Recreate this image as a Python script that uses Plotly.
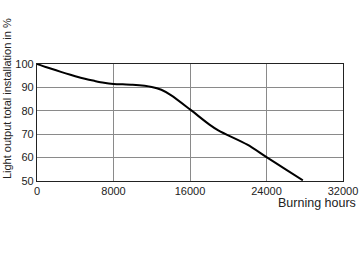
import plotly.graph_objects as go

hours = [0, 1000, 2000, 3000, 4000, 5000, 6000, 7000, 8000, 10000, 12000, 13000, 14000,
         16000, 18000, 19000, 22000, 24000, 26000, 27800]
light = [100, 98.6, 97.3, 96.0, 94.8, 93.7, 92.8, 92.0, 91.5, 91.1, 90.2, 89.0, 86.7,
         80.6, 74.2, 71.5, 65.5, 60.2, 55.0, 50.3]
xticks = [0, 8000, 16000, 24000, 32000]
yticks = [50, 60, 70, 80, 90, 100]

fig = go.Figure()
fig.add_trace(go.Scatter(x=hours, y=light, mode="lines",
                         line=dict(color="black", width=2, shape="spline", smoothing=0.8),
                         showlegend=False, hoverinfo="skip"))

font = dict(family="Liberation Sans, Arial, sans-serif", size=11, color="#222")
fig.update_layout(
    width=360, height=262,
    margin=dict(l=37, r=17, t=64, b=81),
    paper_bgcolor="white", plot_bgcolor="white",
    font=font,
    xaxis=dict(range=[0, 32000], tickvals=xticks, ticktext=[str(v) for v in xticks],
               showgrid=True, gridcolor="#8a8a8a", gridwidth=1,
               showline=True, linecolor="#222", linewidth=1.2, mirror=True,
               ticks="", zeroline=False, tickfont=font, automargin=False),
    yaxis=dict(range=[50, 100], tickvals=yticks, ticktext=[str(v) for v in yticks],
               showgrid=True, gridcolor="#8a8a8a", gridwidth=1,
               showline=True, linecolor="#222", linewidth=1.2, mirror=True,
               ticks="", zeroline=False, tickfont=font, automargin=False),
    annotations=[
        dict(text="Burning hours", xref="paper", yref="paper",
             x=1.05, y=-0.115, xanchor="right", yanchor="top",
             showarrow=False, font=dict(family=font["family"], size=12.5, color="#222")),
        dict(text="Light output total installation in %", xref="paper", yref="paper",
             x=-0.098, y=0.70, xanchor="center", yanchor="middle", textangle=-90,
             showarrow=False, font=dict(family=font["family"], size=11, color="#222")),
    ],
)
fig.write_html("out.html")
